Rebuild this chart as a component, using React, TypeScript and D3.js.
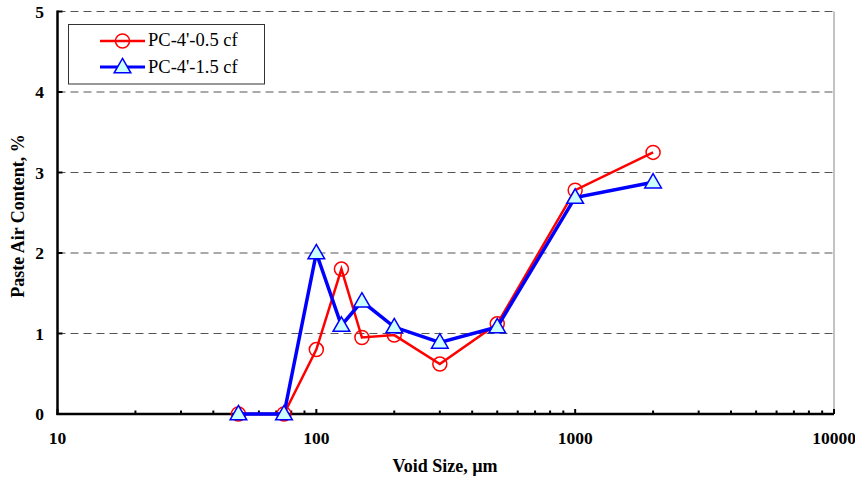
import React from "react";
import * as d3 from "d3";

const voidSizes = [50, 75, 100, 125, 150, 200, 300, 500, 1000, 2000];
const series05 = [0, 0, 0.8, 1.8, 0.95, 0.98, 0.62, 1.12, 2.78, 3.25];
const series15 = [0, 0, 2.0, 1.1, 1.4, 1.08, 0.89, 1.08, 2.69, 2.88];
const seriesNames = ["PC-4'-0.5 cf", "PC-4'-1.5 cf"];
const xTickLabels = [10, 100, 1000, 10000];
const yTickLabels = [0, 1, 2, 3, 4, 5];

const W = 855, H = 481;
const L = 57.5, R = 834, T = 11.5, B = 414;

export default function App() {
  const x = d3.scaleLog().domain([10, 10000]).range([L, R]);
  const y = d3.scaleLinear().domain([0, 5]).range([B, T]);
  const minor: number[] = [];
  for (let d = 10; d < 10000; d *= 10) for (let k = 2; k <= 9; k++) minor.push(d * k);
  const line = d3.line<number>().x((_, i) => x(voidSizes[i])).y((v) => y(v));
  const tri = d3.symbol().type(d3.symbolTriangle).size(120)() as string;
  const font = "'Liberation Serif', 'Times New Roman', serif";
  return (
    <svg width={W} height={H} style={{ position: "absolute", left: 0, top: 0 }} fontFamily={font}>
      <rect width={W} height={H} fill="white" />
      {yTickLabels.slice(1).map((v) => (
        <line key={v} x1={L} x2={R} y1={y(v)} y2={y(v)} stroke="#555" strokeWidth={1} strokeDasharray="8,5" />
      ))}
      <line x1={R} x2={R} y1={T} y2={B} stroke="#888" strokeWidth={1} />
      {minor.map((m) => (
        <line key={m} x1={x(m)} x2={x(m)} y1={B} y2={B - 3.5} stroke="black" strokeWidth={2} />
      ))}
      {xTickLabels.map((m) => (
        <line key={m} x1={x(m)} x2={x(m)} y1={B} y2={B - 5} stroke="black" strokeWidth={2} />
      ))}
      {yTickLabels.map((v) => (
        <line key={v} x1={L} x2={L + 5} y1={y(v)} y2={y(v)} stroke="black" strokeWidth={2} />
      ))}
      <line x1={L} x2={L} y1={T - 1} y2={B + 1} stroke="black" strokeWidth={2.5} />
      <line x1={L - 1} x2={R} y1={B} y2={B} stroke="black" strokeWidth={2.5} />
      {xTickLabels.map((m) => (
        <text key={m} x={x(m)} y={444} textAnchor="middle" fontSize={17.5} fontWeight="bold">{m}</text>
      ))}
      {yTickLabels.map((v) => (
        <text key={v} x={44} y={y(v) + 6} textAnchor="end" fontSize={17.5} fontWeight="bold">{v}</text>
      ))}
      <text x={445} y={472} textAnchor="middle" fontSize={18} fontWeight="bold">Void Size, µm</text>
      <text transform={`translate(24,${216}) rotate(-90)`} textAnchor="middle" fontSize={18} fontWeight="bold">Paste Air Content, %</text>

      <path d={line(series05) || ""} fill="none" stroke="red" strokeWidth={2.5} />
      {series05.map((v, i) => (
        <circle key={i} cx={x(voidSizes[i])} cy={y(v)} r={7} fill="none" stroke="red" strokeWidth={1.5} />
      ))}
      <path d={line(series15) || ""} fill="none" stroke="blue" strokeWidth={3.5} />
      {series15.map((v, i) => (
        <path key={i} d={tri} transform={`translate(${x(voidSizes[i])},${y(v) + 1})`} fill="#ccffff" stroke="blue" strokeWidth={1.5} />
      ))}

      <rect x={68.5} y={24.5} width={196} height={59.5} fill="white" stroke="#333" strokeWidth={1} />
      <line x1={100} x2={145} y1={41} y2={41} stroke="red" strokeWidth={2.5} />
      <circle cx={122.5} cy={41} r={7} fill="none" stroke="red" strokeWidth={1.5} />
      <text x={148} y={46} fontSize={18.5}>{seriesNames[0]}</text>
      <line x1={100} x2={145} y1={67} y2={67} stroke="blue" strokeWidth={3} />
      <path d={tri} transform="translate(122.5,68)" fill="#ccffff" stroke="blue" strokeWidth={1.5} />
      <text x={148} y={73} fontSize={18.5}>{seriesNames[1]}</text>
    </svg>
  );
}
